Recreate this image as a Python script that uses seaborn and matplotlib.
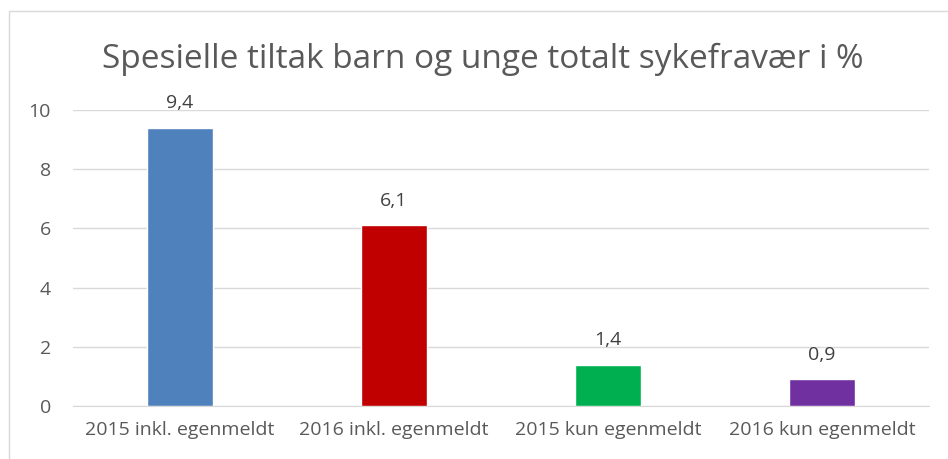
import pandas as pd
import seaborn as sns
import matplotlib.pyplot as plt
from matplotlib.patches import Rectangle

# Chart data
categories = ['2015 inkl. egenmeldt', '2016 inkl. egenmeldt', '2015 kun egenmeldt', '2016 kun egenmeldt']
values = [9.4, 6.1, 1.4, 0.9]
bar_colors = ['#4F81BD', '#C00000', '#00B050', '#7030A0']
value_labels = ['9,4', '6,1', '1,4', '0,9']
y_ticks = [0, 2, 4, 6, 8, 10]

df = pd.DataFrame({'kategori': categories, 'verdi': values})

sns.set_style('white')
plt.rcParams['font.family'] = ['Open Sans', 'DejaVu Sans']

fig = plt.figure(figsize=(9.48, 4.59), dpi=100)
ax = fig.add_axes([0.077, 0.1155, 0.903, 0.645])

sns.barplot(data=df, x='kategori', y='verdi', hue='kategori', palette=bar_colors,
            legend=False, width=0.31, saturation=1, ax=ax, zorder=3)

# Data labels above each bar
for i, (v, lab) in enumerate(zip(values, value_labels)):
    ax.annotate(lab, (i, v), xytext=(0, 14), textcoords='offset points',
                ha='center', va='baseline', fontsize=14, color='#404040')

ax.set_ylim(0, 10)
ax.set_yticks(y_ticks)
ax.set_yticklabels([str(t) for t in y_ticks], fontsize=14, color='#595959')
ax.tick_params(axis='x', labelsize=14, labelcolor='#595959', length=0, pad=11)
ax.tick_params(axis='y', length=0, pad=16)
ax.set_xlim(-0.5, 3.5)
ax.set_xlabel('')
ax.set_ylabel('')
ax.yaxis.grid(True, color='#D9D9D9', linewidth=1, zorder=0)
for side in ['top', 'right', 'left']:
    ax.spines[side].set_visible(False)
ax.spines['bottom'].set_color('#D9D9D9')

fig.text(0.5095, 1 - 68 / 459, 'Spesielle tiltak barn og unge totalt sykefravær i %',
         ha='center', va='baseline', fontsize=24, color='#595959')

# Outer chart border
fig.patches.append(Rectangle((9 / 948, -0.1), 1.2, (459 - 11) / 459 + 0.1,
                             transform=fig.transFigure, fill=False,
                             edgecolor='#D9D9D9', linewidth=1))

plt.savefig('out.png', dpi=100)
